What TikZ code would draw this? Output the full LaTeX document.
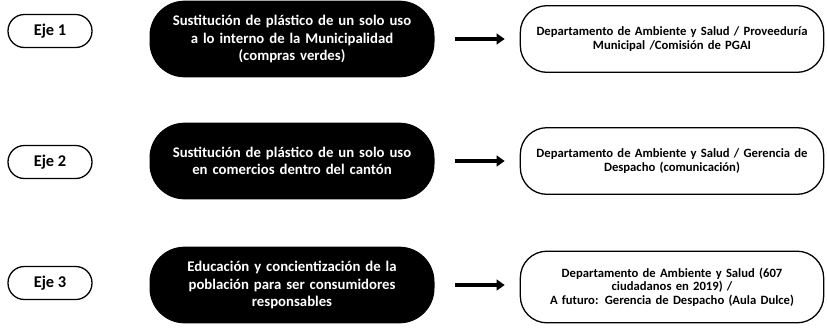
\documentclass[tikz,border=0pt]{standalone}
\usepackage{fontspec}
\setmainfont{Carlito}
\usetikzlibrary{arrows.meta}

\begin{document}
\begin{tikzpicture}[x=0.3mm, y=-0.3mm,
            every node/.style = {shape=rectangle, align=center, font=\bfseries},
            eje/.style = {draw, line width=1.1pt, rounded corners=4.9mm,
                          minimum width=25.2mm, minimum height=9.9mm,
                          font=\bfseries\fontsize{14}{16}\selectfont},
            accion/.style = {fill=black, text=white, rounded corners=10.5mm,
                             minimum width=85.5mm, minimum height=23mm, text width=82mm,
                             font=\bfseries\fontsize{12.6}{14.8}\selectfont},
            depto/.style = {draw, line width=1.1pt, rounded corners=8mm,
                            minimum width=91mm, minimum height=20mm, text width=88mm,
                            font=\bfseries\fontsize{10.8}{11.6}\selectfont},
            flecha/.style = {line width=3.4pt, -{Triangle[length=2.4mm, width=3.2mm]},
                             shorten <=6mm, shorten >=4.5mm}]
            \useasboundingbox (0,0) rectangle (827,327);
            \node[eje] (eje1) at (50,31) {Eje 1};
            \node[eje] (eje2) at (50,162) {Eje 2};
            \node[eje] (eje3) at (50,283) {Eje 3};
            \node[accion] (acc1) at (292,39) {Sustitución de plástico de un solo uso\\a lo interno de la Municipalidad\\(compras verdes)};
            \node[accion] (acc2) at (292,161) {Sustitución de plástico de un solo uso\\en comercios dentro del cantón};
            \node[accion] (acc3) at (292,285) {Educación y concientización de la\\población para ser consumidores\\responsables};
            \node[depto] (dep1) at (672,39) {Departamento de Ambiente y Salud / Proveeduría\\Municipal /Comisión de PGAI};
            \node[depto] (dep2) at (672,161) {Departamento de Ambiente y Salud / Gerencia de\\Despacho (comunicación)};
            \node[depto, minimum height=21.5mm] (dep3) at (672,287) {Departamento de Ambiente y Salud (607\\ciudadanos en 2019) /\\A futuro: Gerencia de Despacho (Aula Dulce)};
            \draw[flecha] (acc1) -- (dep1);
            \draw[flecha] (acc2) -- (dep2);
            \draw[flecha] (acc3) -- (acc3 -| dep3.west);
\end{tikzpicture}
\end{document}
